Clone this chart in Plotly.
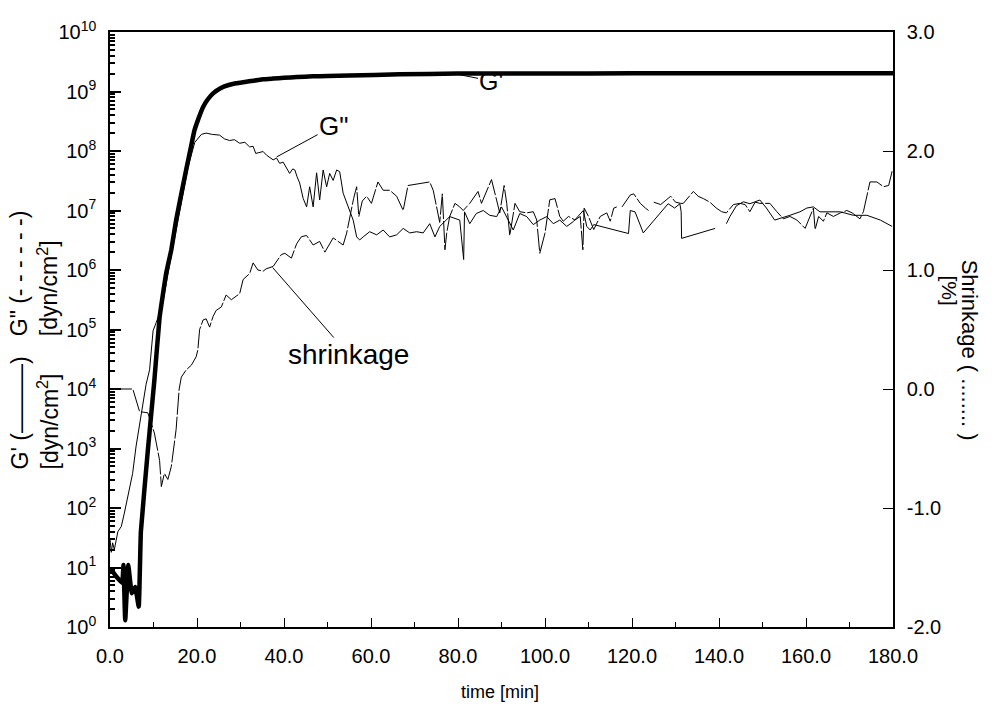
import plotly.graph_objects as go

# ---------------- data ----------------
# G' (storage modulus, dyn/cm^2)
gp_time = [0.0, 1.5, 2.8, 3.1, 3.5, 4.2, 5.0, 5.8, 6.6, 7.1, 8.7, 10.2, 11.4, 12.9, 14.1,
           15.2, 17.5, 18.5, 19.4, 20.4, 21.4, 22.5, 23.7, 25.5, 27.5, 29.0, 31.0, 33.0,
           35.2, 37.5, 40.0, 43.0, 46.6, 50.0, 55.0, 66.6, 80.0, 100.0, 120.0, 140.0,
           160.0, 180.0]
gp_val = [9.8, 7.0, 5.5, 11, 1.3, 11, 3.7, 4.7, 2.2, 40, 930, 1.4e4, 1.6e5, 8.7e5, 2.2e6,
          6.9e6, 4.8e7, 1.07e8, 2.2e8, 3.6e8, 5.5e8, 7.4e8, 9.3e8, 1.15e9, 1.3e9, 1.38e9,
          1.45e9, 1.52e9, 1.6e9, 1.65e9, 1.7e9, 1.75e9, 1.8e9, 1.82e9, 1.85e9, 1.95e9,
          2.0e9, 2.0e9, 2.02e9, 2.02e9, 2.03e9, 2.03e9]

# G'' (loss modulus, dyn/cm^2)
gpp_time = [0.0, 0.3, 0.6, 1.0, 1.8, 2.6, 3.3, 4.5, 5.2, 6.0, 6.8, 7.5, 8.3, 9.1, 9.9, 10.6,
            12.0, 14.0, 16.0, 18.0, 19.5, 21.0, 22.1, 23.5, 25.2, 26.3, 27.5, 28.6, 29.8,
            31.0, 32.1, 32.9, 33.5, 34.4, 35.2, 36.0, 36.7, 37.5, 38.3, 39.0, 39.8, 40.5,
            41.3, 42.0, 42.5, 43.0, 43.6, 44.4, 45.2, 45.9, 46.7, 47.5, 48.2, 49.0, 49.8,
            50.5, 51.3, 52.1, 52.8, 53.6, 54.7, 55.9, 56.7, 57.4, 58.2, 59.7, 61.3, 62.8,
            64.3, 65.9, 67.4, 68.9, 70.5, 72.0, 73.5, 74.7, 75.8, 78.1, 80.4, 81.3, 81.5,
            82.7, 84.2, 85.8, 87.3, 88.9, 90.0, 91.2, 92.7, 94.2, 95.8, 97.3, 98.8, 100.4,
            101.9, 103.4, 105.0, 106.5, 108.1, 108.8, 109.6, 110.4, 111.2, 119.2, 119.6,
            120.7, 122.6, 128.3, 129.8, 131.0, 131.3, 131.4, 139.1, 140.4, 141.7, 142.5,
            144.0, 145.6, 147.1, 149.4, 150.9, 152.8, 156.3, 158.6, 160.2, 161.7, 163.2,
            164.8, 167.9, 170.9, 174.0, 177.1, 179.8]
gpp_val = [30, 18, 26, 20, 40, 49, 82, 230, 380, 1100, 2600, 5000, 1.2e4, 2.1e4, 9.5e4, 1.3e5,
           2.5e5, 1.6e6, 1.0e7, 5.6e7, 1.4e8, 1.9e8, 2.0e8, 1.9e8, 1.85e8, 1.6e8, 1.5e8, 1.55e8,
           1.35e8, 1.4e8, 1.17e8, 1.2e8, 9.1e7, 9.5e7, 9.8e7, 8.5e7, 7.9e7, 7.1e7, 7.6e7,
           6.2e7, 6.5e7, 5.4e7, 4.2e7, 5.0e7, 4.8e7, 3.7e7, 2.9e7, 1.6e7, 1.15e7, 2.5e7,
           1.15e7, 4.3e7, 1.5e7, 4.8e7, 2.5e7, 4.2e7, 3.2e7, 4.8e7, 4.5e7, 1.95e7, 1.15e7,
           6.9e6, 3.6e6, 3.2e6, 3.6e6, 4.4e6, 3.9e6, 4.7e6, 3.6e6, 3.9e6, 5.0e6, 4.2e6,
           4.4e6, 4.2e6, 6.0e6, 3.6e6, 5.4e6, 7.9e6, 6.9e6, 1.5e6, 9.5e6, 6.0e6, 8.9e6,
           1.0e7, 8.3e6, 7.9e6, 1.15e7, 7.9e6, 4.7e6, 8.9e6, 7.9e6, 5.8e6, 6.9e6, 7.9e6,
           6.0e6, 6.9e6, 5.4e6, 6.5e6, 8.9e6, 1.0e7, 5.4e6, 4.7e6, 5.8e6, 4.1e6, 1.0e7,
           9.5e6, 4.2e6, 1.3e7, 1.1e7, 1.3e7, 9.5e6, 3.4e6, 5.0e6, None, 6.0e6, 7.9e6,
           1.2e7, 1.4e7, 1.3e7, 1.5e7, 1.1e7, 6.9e6, 8.3e6, 9.5e6, 1.1e7, 1.15e7, 9.5e6,
           9.5e6, 9.5e6, 8.3e6, 8.3e6, 6.9e6, 5.4e6]

# Shrinkage (%)
shr_time = [0.0, 5.25, 6.8, 8.7, 10.2, 11.4, 11.8, 12.5, 13.3, 14.1, 15.2, 15.9, 16.4, 17.5,
            18.7, 19.8, 20.2, 20.6, 21.4, 22.1, 22.9, 23.7, 24.4, 25.6, 26.7, 27.9, 29.0,
            29.8, 30.6, 32.1, 32.9, 34.0, 35.2, 35.9, 37.5, 39.4, 40.2, 41.7, 42.9, 44.0,
            45.2, 46.7, 48.2, 49.4, 51.3, 53.6, 54.4, 55.1, 56.0, 56.7, 57.2, 58.0, 59.0,
            60.1, 61.6, 62.8, 64.3, 65.9, 67.4, 68.5, 73.5, 74.3, 75.0, 75.8, 76.4, 77.0,
            77.4, 78.1, 79.3, 80.4, 81.2, 82.7, 84.6, 85.4, 87.7, 88.9, 89.6, 90.6, 91.2,
            91.9, 93.1, 94.2, 95.8, 97.3, 98.1, 98.8, 100.0, 101.1, 102.3, 103.4, 104.2,
            105.4, 106.9, 108.1, 108.7, 109.0, 110.0, 111.2, 112.7, 114.2, 115.0, 115.8,
            116.5, 117.1, 117.7, 119.6, 120.4, 121.9, 123.1, 123.8, 124.4, 125.0, 126.6,
            128.9, 130.0, 131.2, 131.8, 134.1, 135.2, 136.4, 137.9, 139.4, 140.6, 141.7,
            143.3, 144.8, 146.0, 147.1, 148.3, 149.4, 151.7, 153.3, 154.8, 156.3, 157.9,
            159.8, 161.0, 161.7, 162.1, 162.9, 164.0, 164.8, 166.3, 167.9, 169.4, 170.6,
            172.4, 173.2, 174.7, 176.3, 177.8, 179.0, 179.8]
shr_val = [0.0, 0.0, -0.19, -0.2, -0.37, -0.6, -0.82, -0.71, -0.76, -0.65, -0.34, 0.0, 0.1,
           0.16, 0.2, 0.27, 0.33, 0.5, 0.58, 0.59, 0.52, 0.61, 0.66, 0.69, 0.79, 0.75, 0.78,
           0.8, 0.92, 0.97, 1.06, 1.0, 0.99, 1.01, 1.03, 1.13, 1.14, 1.1, 1.22, 1.28, 1.29,
           1.21, 1.24, 1.15, 1.27, 1.21, 1.31, 1.45, 1.6, 1.7, 1.45, 1.58, 1.62, 1.56, 1.74,
           1.67, 1.67, 1.62, 1.5, 1.71, 1.74, 1.67, 1.53, 1.40, 1.64, 1.17, 1.31, 1.45, 1.56,
           1.53, 1.5, 1.56, 1.66, 1.56, 1.76, 1.59, 1.48, 1.71, 1.56, 1.29, 1.56, 1.49, 1.48,
           1.49, 1.42, 1.14, 1.31, 1.59, 1.6, 1.45, 1.41, 1.45, 1.42, 1.45, 1.17, 1.52, 1.45,
           1.34, 1.45, 1.48, 1.41, 1.52, 1.53, None, 1.53, 1.63, 1.64, 1.56, 1.52, 1.5, None,
           1.57, 1.55, 1.62, 1.57, 1.56, 1.56, 1.66, 1.62, 1.6, 1.57, 1.52, 1.49, 1.48, 1.55,
           1.56, 1.55, 1.49, 1.57, 1.56, 1.56, 1.49, 1.43, 1.45, 1.42, 1.35, 1.45, 1.52,
           1.34, 1.45, 1.41, 1.48, 1.45, 1.48, 1.5, 1.48, 1.43, 1.49, 1.74, 1.74, 1.7, 1.71,
           1.83]

x_ticks = [0, 20, 40, 60, 80, 100, 120, 140, 160, 180]
y_dec = [0, 1, 2, 3, 4, 5, 6, 7, 8, 9, 10]
y2_ticks = [-2.0, -1.0, 0.0, 1.0, 2.0, 3.0]

# ---------------- figure ----------------
FONT = "Liberation Sans, Arial, Helvetica, sans-serif"
fig = go.Figure()

fig.add_trace(go.Scatter(x=gpp_time, y=gpp_val, mode="lines", yaxis="y",
                         line=dict(color="black", width=1), showlegend=False))
fig.add_trace(go.Scatter(x=shr_time, y=shr_val, mode="lines", yaxis="y2",
                         line=dict(color="black", width=1, dash="22px,2px"), showlegend=False))
fig.add_trace(go.Scatter(x=gp_time, y=gp_val, mode="lines", yaxis="y",
                         line=dict(color="black", width=4.5, shape="spline", smoothing=0.3),
                         showlegend=False))

minor_vals = [m * 10 ** k for k in range(10) for m in range(2, 10)]

fig.update_layout(
    width=994, height=710,
    margin=dict(l=110, r=101, t=32, b=83),
    paper_bgcolor="white", plot_bgcolor="white",
    font=dict(family=FONT, size=20, color="black"),
    xaxis=dict(range=[0, 180], tickmode="array", tickvals=x_ticks,
               ticktext=[f"{v:.1f}" for v in x_ticks],
               ticks="inside", ticklen=9, tickwidth=1.2, tickcolor="black",
               minor=dict(ticks="inside", ticklen=5, dtick=10, tick0=0, tickcolor="black"),
               showline=True, linecolor="black", linewidth=1.5, mirror=True,
               showgrid=False, zeroline=False, ticklabelstandoff=10),
    yaxis=dict(type="log", range=[0, 10], tickmode="array",
               tickvals=[10 ** d for d in y_dec],
               ticktext=[f"10<sup>{d}</sup>" for d in y_dec],
               ticks="inside", ticklen=11, tickwidth=1.5, tickcolor="black",
               minor=dict(ticks="inside", ticklen=5, tickmode="array",
                          tickvals=minor_vals, tickcolor="black", showgrid=False),
               showline=True, linecolor="black", linewidth=1.5,
               showgrid=False, zeroline=False, ticklabelstandoff=8),
    yaxis2=dict(range=[-2, 3], overlaying="y", side="right", tickmode="array",
                tickvals=y2_ticks, ticktext=[f"{v:.1f}" for v in y2_ticks],
                ticks="inside", ticklen=10, tickwidth=1.2, tickcolor="black",
                showline=True, linecolor="black", linewidth=1.5,
                showgrid=False, zeroline=False, ticklabelstandoff=8),
)

ann = []
# axis titles
ann.append(dict(text="time [min]", xref="paper", yref="paper", x=0.498, y=-0.109,
                showarrow=False, font=dict(size=18), xanchor="center", yanchor="middle"))
ann.append(dict(text="G' (———)<br>[dyn/cm<sup>2</sup>]", xref="paper", yref="paper",
                x=-0.096, y=0.262, textangle=-90, align="left", showarrow=False,
                font=dict(size=23), xanchor="center", yanchor="bottom"))
ann.append(dict(text="G\" (- - - - - -)<br>[dyn/cm<sup>2</sup>]", xref="paper", yref="paper",
                x=-0.096, y=0.485, textangle=-90, align="left", showarrow=False,
                font=dict(size=23), xanchor="center", yanchor="bottom"))
ann.append(dict(text="Shrinkage ( ........ )", xref="paper", yref="paper",
                x=1.097, y=0.62, textangle=90, showarrow=False,
                font=dict(size=22), xanchor="center", yanchor="top"))
ann.append(dict(text="[%]", xref="paper", yref="paper",
                x=1.071, y=0.595, textangle=90, showarrow=False,
                font=dict(size=21), xanchor="center", yanchor="top"))
# curve labels
ann.append(dict(text="G'", x=78.5, y=9.31, xref="x", yref="y", ax=40, ay=8,
                showarrow=True, arrowhead=0, arrowwidth=1, arrowcolor="black",
                font=dict(size=25)))
ann.append(dict(text="G\"", x=38.3, y=7.9, xref="x", yref="y", ax=57, ay=-31,
                showarrow=True, arrowhead=0, arrowwidth=1, arrowcolor="black",
                font=dict(size=26)))
ann.append(dict(text="shrinkage", x=37.4, y=1.02, xref="x", yref="y2", ax=76, ay=87,
                showarrow=True, arrowhead=0, arrowwidth=1, arrowcolor="black",
                font=dict(size=28)))
fig.update_layout(annotations=ann)

fig.write_html("out.html")
